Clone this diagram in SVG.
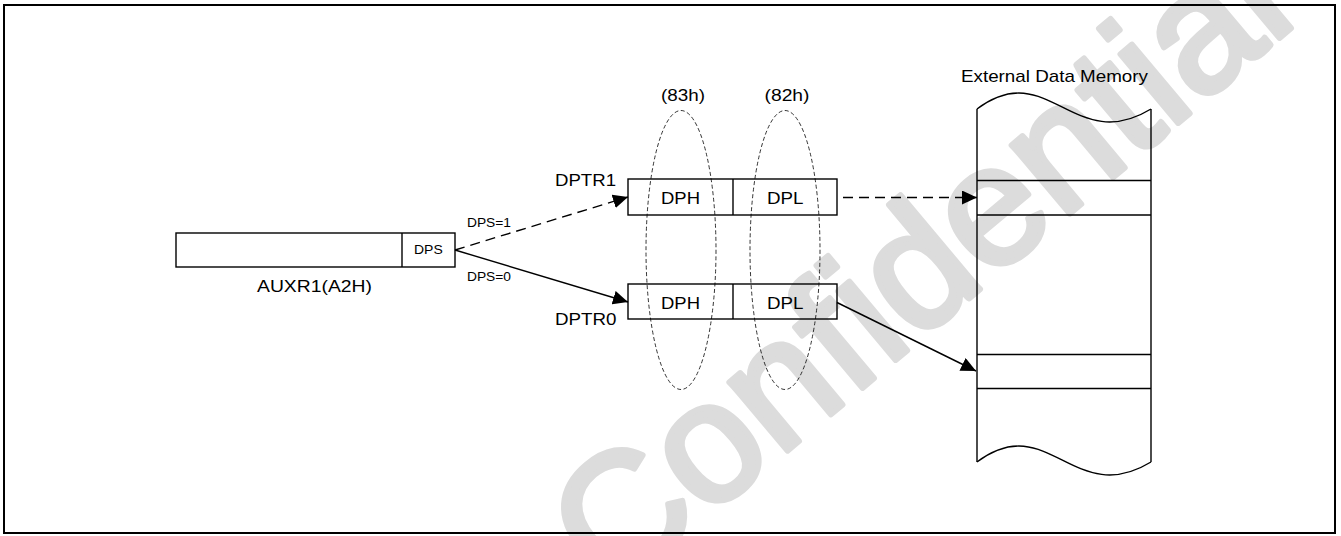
<svg xmlns="http://www.w3.org/2000/svg" width="1341" height="536" viewBox="0 0 1341 536">
<style>
  .t { font-family: "Liberation Sans", Arial, sans-serif; fill: #000; }
  .box { fill: none; stroke: #000; stroke-width: 1.4; }
  .ln { fill: none; stroke: #000; stroke-width: 1.4; }
  .ell { fill: none; stroke: #000; stroke-width: 0.8; stroke-dasharray: 4 2.5; }
  .dash { stroke-dasharray: 10 6; }
  .wm { font-family: "Liberation Sans", Arial, sans-serif; fill: #dcdcdc; stroke: #dcdcdc; stroke-width: 6; stroke-linejoin: round; font-size: 170px; }
</style>
<defs>
  <marker id="arr" markerUnits="userSpaceOnUse" markerWidth="16" markerHeight="15" refX="15" refY="7" orient="auto">
    <path d="M0,0 L15,7 L0,14 z" fill="#000"/>
  </marker>
</defs>
<rect width="1341" height="536" fill="#fff"/>
<text class="wm" transform="translate(612,598) rotate(-40)">Confidential</text>
<rect x="4" y="5" width="1331" height="528" fill="none" stroke="#000" stroke-width="2"/>

<g id="auxr1">
  <rect class="box" x="176" y="233" width="279" height="34"/>
  <line class="ln" x1="402" y1="233" x2="402" y2="267"/>
  <text class="t" x="414" y="253.5" font-size="13" textLength="28.7" lengthAdjust="spacingAndGlyphs">DPS</text>
  <text class="t" x="257" y="292" font-size="17" textLength="115" lengthAdjust="spacingAndGlyphs">AUXR1(A2H)</text>
</g>

<g id="dptr1">
  <rect class="box" x="628" y="179" width="209" height="36"/>
  <line class="ln" x1="733" y1="179" x2="733" y2="215"/>
  <text class="t" x="661" y="204" font-size="17" textLength="39" lengthAdjust="spacingAndGlyphs">DPH</text>
  <text class="t" x="767" y="204" font-size="17" textLength="36.5" lengthAdjust="spacingAndGlyphs">DPL</text>
  <text class="t" x="555" y="186" font-size="17" textLength="61" lengthAdjust="spacingAndGlyphs">DPTR1</text>
</g>

<g id="dptr0">
  <rect class="box" x="628" y="284" width="209" height="35"/>
  <line class="ln" x1="733" y1="284" x2="733" y2="319"/>
  <text class="t" x="661" y="308.5" font-size="17" textLength="39" lengthAdjust="spacingAndGlyphs">DPH</text>
  <text class="t" x="767" y="308.5" font-size="17" textLength="36.5" lengthAdjust="spacingAndGlyphs">DPL</text>
  <text class="t" x="555" y="325" font-size="17" textLength="61.5" lengthAdjust="spacingAndGlyphs">DPTR0</text>
</g>

<g id="dph-group">
  <ellipse class="ell" cx="681" cy="250" rx="35" ry="139.5"/>
  <text class="t" x="661" y="101" font-size="17" textLength="44" lengthAdjust="spacingAndGlyphs">(83h)</text>
</g>

<g id="dpl-group">
  <ellipse class="ell" cx="785" cy="250" rx="35" ry="139.5"/>
  <text class="t" x="764.5" y="101" font-size="17" textLength="45" lengthAdjust="spacingAndGlyphs">(82h)</text>
</g>

<g id="memory">
  <path class="ln" d="M977,109 C1048,56 1074,156 1151,109"/>
  <path class="ln" d="M977,462 C1048,409 1074,509 1151,462"/>
  <line class="ln" x1="977" y1="109" x2="977" y2="462"/>
  <line class="ln" x1="1151" y1="109" x2="1151" y2="462"/>
  <line class="ln" x1="977" y1="180.5" x2="1151" y2="180.5"/>
  <line class="ln" x1="977" y1="215" x2="1151" y2="215"/>
  <line class="ln" x1="977" y1="354.5" x2="1151" y2="354.5"/>
  <line class="ln" x1="977" y1="388.5" x2="1151" y2="388.5"/>
  <text class="t" x="961" y="82" font-size="17" textLength="187" lengthAdjust="spacingAndGlyphs">External Data Memory</text>
</g>

<g id="connectors">
  <line class="ln dash" x1="455" y1="250" x2="628" y2="197" marker-end="url(#arr)"/>
  <line class="ln" x1="455" y1="250" x2="628" y2="302" marker-end="url(#arr)"/>
  <line class="ln dash" x1="843" y1="197.5" x2="977" y2="197.5" marker-end="url(#arr)"/>
  <line class="ln" x1="837" y1="302.5" x2="976" y2="371" marker-end="url(#arr)"/>
  <text class="t" x="467" y="227" font-size="12" textLength="44" lengthAdjust="spacingAndGlyphs">DPS=1</text>
  <text class="t" x="467" y="281" font-size="12" textLength="44" lengthAdjust="spacingAndGlyphs">DPS=0</text>
</g>
</svg>
